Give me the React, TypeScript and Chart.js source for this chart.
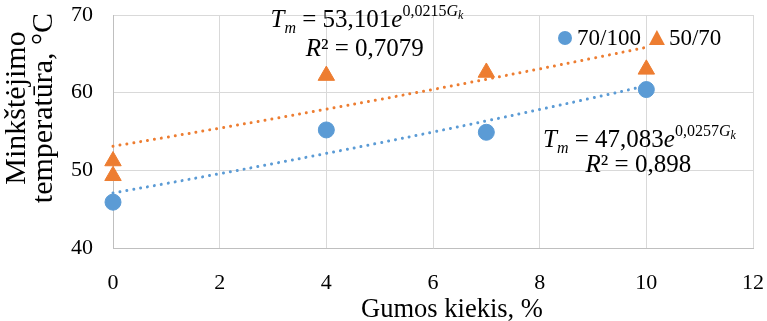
import React, { useEffect, useRef } from "react";
import { Chart, registerables } from "chart.js";

Chart.register(...registerables);

// ---- data ----
const xTicks = [0, 2, 4, 6, 8, 10, 12];
const yTicks = [40, 50, 60, 70];

const series70x = [0, 4, 7, 10];
const series70y = [45.9, 55.2, 54.9, 60.4];

const series50x = [0, 0, 4, 7, 10];
const series50y = [51.2, 49.3, 62.2, 62.6, 63.0];

// exponential trendline coefficients shown on the chart
const trend70 = { a: 47.083, b: 0.0257, r2: "0,898", aText: "47,083", bText: "0,0257" };
const trend50 = { a: 53.101, b: 0.0215, r2: "0,7079", aText: "53,101", bText: "0,0215" };
const trendX = [0, 1, 2, 3, 4, 5, 6, 7, 8, 9, 10];

const xTitle = "Gumos kiekis, %";
const yTitle = ["Minkštėjimo", "temperatūra, °C"];

const BLUE = "#5B9BD5";
const ORANGE = "#ED7D31";
const FONT = "'Liberation Serif', 'Times New Roman', serif";

type Seg = { t: string; italic?: boolean; size: number; dy: number };

function drawRich(ctx: CanvasRenderingContext2D, segs: Seg[], cx: number, baseline: number) {
  let total = 0;
  const widths: number[] = [];
  segs.forEach((s) => {
    ctx.font = `${s.italic ? "italic " : ""}${s.size}px ${FONT}`;
    const w = ctx.measureText(s.t).width;
    widths.push(w);
    total += w;
  });
  let x = cx - total / 2;
  segs.forEach((s, i) => {
    ctx.font = `${s.italic ? "italic " : ""}${s.size}px ${FONT}`;
    ctx.fillText(s.t, x, baseline + s.dy);
    x += widths[i];
  });
}

function eqSegs(aText: string, bText: string): Seg[] {
  return [
    { t: "T", italic: true, size: 25, dy: 0 },
    { t: "m", italic: true, size: 16, dy: 6 },
    { t: " = " + aText, size: 25, dy: 0 },
    { t: "e", italic: true, size: 25, dy: 0 },
    { t: bText, size: 16, dy: -11 },
    { t: "G", italic: true, size: 16, dy: -11 },
    { t: "k", italic: true, size: 12, dy: -8 },
  ];
}
function r2Segs(r2: string): Seg[] {
  return [
    { t: "R", italic: true, size: 25, dy: 0 },
    { t: "² = " + r2, size: 25, dy: 0 },
  ];
}

const equationPlugin = {
  id: "equations",
  afterDatasetsDraw(chart: any) {
    const ctx = chart.ctx as CanvasRenderingContext2D;
    const xs = chart.scales.x;
    const ys = chart.scales.y;
    ctx.save();
    ctx.fillStyle = "#000";
    ctx.textBaseline = "alphabetic";
    ctx.textAlign = "left";
    drawRich(ctx, eqSegs(trend50.aText, trend50.bText), xs.getPixelForValue(4.76), ys.getPixelForValue(68.4));
    drawRich(ctx, r2Segs(trend50.r2), xs.getPixelForValue(4.72), ys.getPixelForValue(64.7));
    drawRich(ctx, eqSegs(trend70.aText, trend70.bText), xs.getPixelForValue(9.87), ys.getPixelForValue(53.0));
    drawRich(ctx, r2Segs(trend70.r2), xs.getPixelForValue(9.85), ys.getPixelForValue(49.8));
    ctx.restore();
  },
};

const titlesPlugin = {
  id: "axisTitles",
  afterDraw(chart: any) {
    const ctx = chart.ctx as CanvasRenderingContext2D;
    const area = chart.chartArea;
    ctx.save();
    ctx.fillStyle = "#000";
    ctx.textAlign = "center";
    ctx.textBaseline = "alphabetic";
    ctx.font = `26.5px ${FONT}`;
    ctx.fillText(xTitle, (area.left + area.right) / 2 + 19, chart.height - 4);
    ctx.font = `30px ${FONT}`;
    ctx.translate(0, area.top + 93);
    ctx.rotate(-Math.PI / 2);
    ctx.textBaseline = "alphabetic";
    yTitle.forEach((line, i) => {
      ctx.fillText(line, 0, 25 + i * 27);
    });
    ctx.restore();
  },
};

const legendPlugin = {
  id: "insideLegend",
  afterDraw(chart: any) {
    const ctx = chart.ctx as CanvasRenderingContext2D;
    const area = chart.chartArea;
    const cy = area.top + 23;
    ctx.save();
    ctx.font = `23px ${FONT}`;
    ctx.textBaseline = "middle";
    ctx.textAlign = "left";
    const items = chart.data.datasets.filter((d: any) => !String(d.label).startsWith("trend"));
    let x = area.right - 188;
    items.forEach((d: any) => {
      ctx.fillStyle = d.backgroundColor;
      if (d.pointStyle === "triangle") {
        ctx.beginPath();
        ctx.moveTo(x, cy - 8);
        ctx.lineTo(x + 8, cy + 7);
        ctx.lineTo(x - 8, cy + 7);
        ctx.closePath();
        ctx.fill();
      } else {
        ctx.beginPath();
        ctx.arc(x, cy, 7, 0, Math.PI * 2);
        ctx.fill();
      }
      ctx.fillStyle = "#000";
      ctx.fillText(d.label, x + 12, cy + 1);
      x += 12 + ctx.measureText(d.label).width + 16;
    });
    ctx.restore();
  },
};

export default function App() {
  const ref = useRef<HTMLCanvasElement | null>(null);
  useEffect(() => {
    if (!ref.current) return;
    const chart = new Chart(ref.current, {
      type: "scatter",
      data: {
        datasets: [
          {
            label: "70/100",
            data: series70x.map((x, i) => ({ x, y: series70y[i] })),
            backgroundColor: BLUE,
            borderColor: BLUE,
            pointStyle: "circle",
            pointRadius: 8,
            clip: false,
            order: 1,
          },
          {
            label: "50/70",
            data: series50x.map((x, i) => ({ x, y: series50y[i] })),
            backgroundColor: ORANGE,
            borderColor: ORANGE,
            pointStyle: "triangle",
            pointRadius: 9.5,
            clip: false,
            order: 1,
          },
          {
            label: "trend70",
            type: "line",
            data: trendX.map((x) => ({ x, y: trend70.a * Math.exp(trend70.b * x) })),
            borderColor: BLUE,
            borderWidth: 3,
            borderDash: [0.01, 7],
            borderCapStyle: "round",
            pointRadius: 0,
            fill: false,
            tension: 0.4,
            clip: false,
            order: 2,
          },
          {
            label: "trend50",
            type: "line",
            data: trendX.map((x) => ({ x, y: trend50.a * Math.exp(trend50.b * x) })),
            borderColor: ORANGE,
            borderWidth: 3,
            borderDash: [0.01, 7],
            borderCapStyle: "round",
            pointRadius: 0,
            fill: false,
            tension: 0.4,
            clip: false,
            order: 2,
          },
        ] as any,
      },
      options: {
        animation: false,
        responsive: false,
        maintainAspectRatio: false,
        layout: { padding: { top: 15, right: 14, left: 0, bottom: 0 } },
        plugins: {
          tooltip: { enabled: false },
          legend: { display: false },
        },
        scales: {
          x: {
            type: "linear",
            min: 0,
            max: 12,
            afterBuildTicks: (s: any) => {
              s.ticks = xTicks.map((v) => ({ value: v }));
            },
            afterFit: (s: any) => {
              s.height = 73;
              s.paddingLeft = 0;
              s.paddingRight = 0;
            },
            grid: { color: "#d9d9d9", lineWidth: 1, drawTicks: false },
            border: { color: "#bfbfbf" },
            ticks: { color: "#000", padding: 22, font: { family: FONT, size: 22 } },
            title: { display: false, text: xTitle },
          },
          y: {
            type: "linear",
            min: 40,
            max: 70,
            afterBuildTicks: (s: any) => {
              s.ticks = yTicks.map((v) => ({ value: v }));
            },
            afterFit: (s: any) => {
              s.width = 113;
              s.paddingTop = 0;
              s.paddingBottom = 0;
            },
            grid: { color: "#d9d9d9", lineWidth: 1, drawTicks: false },
            border: { color: "#bfbfbf" },
            ticks: { color: "#000", padding: 20, font: { family: FONT, size: 22 } },
            title: { display: false, text: yTitle.join(" ") },
          },
        },
      },
      plugins: [equationPlugin, legendPlugin, titlesPlugin],
    });
    return () => chart.destroy();
  }, []);
  return (
    <div style={{ position: "fixed", left: 0, top: 0, width: 767, height: 321, background: "#fff" }}>
      <canvas ref={ref} width={767} height={321} />
    </div>
  );
}
